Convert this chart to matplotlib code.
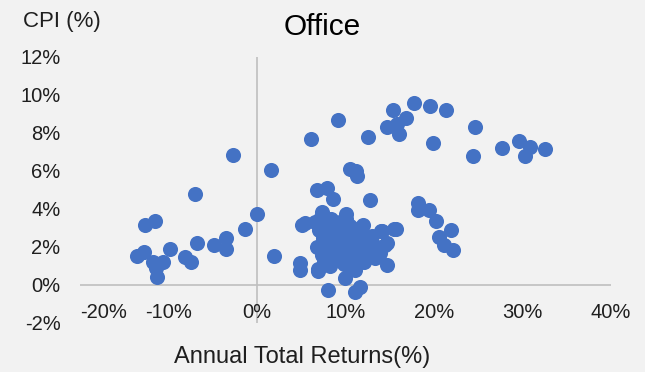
import matplotlib
matplotlib.use("Agg")
import matplotlib.pyplot as plt

# --- Data (in %) ---
annual_returns = [
    # upper band
    6.1, 9.2, 12.5, 15.4, 17.7, 19.5, 21.3, 16.8, 15.8, 14.7, 16.0, 19.9,
    24.6, 24.4, 27.7, 29.6, 30.9, 30.3, 32.5,
    10.5, 11.15, 11.3,
    # left group
    -2.7, 1.6, -7.0, -12.6, -11.5, 0.0, -1.4, -3.5, -3.5, -4.9, -6.8, -8.1,
    -7.5, -9.8, -13.6, -12.8, -11.7, -10.6, -11.4, -11.3, 1.9,
    # around 5%
    6.75, 7.9, 8.6, 12.8,
    # edges of the main cluster
    5.05, 7.3, 10.1, 12.0, 14.1, 15.5, 14.65, 14.65, 14.5, 14.0, 15.7,
    4.86, 4.86, 6.9, 9.9, 8.05, 11.1, 11.6, 11.1, 6.9, 5.4,
    # inside the main cluster
    6.5, 7.0, 7.2, 7.5, 7.8, 8.0, 8.2, 8.4, 8.5, 8.7, 8.9, 9.0, 9.2, 9.4,
    9.5, 9.7, 9.9, 10.0, 10.2, 10.3, 10.5, 10.6, 10.8, 11.0, 11.2, 11.4,
    11.6, 11.8, 12.0, 12.3, 12.5, 12.8, 13.0, 13.3, 13.6, 13.9, 7.6, 8.3,
    9.8, 10.9, 12.1, 6.8, 7.3,
    # right group
    18.2, 18.2, 19.4, 20.2, 21.9, 20.6, 21.1, 22.2,
]
cpi = [
    7.7, 8.66, 7.8, 9.2, 9.6, 9.4, 9.2, 8.8, 8.5, 8.3, 7.96, 7.5,
    8.3, 6.8, 7.2, 7.56, 7.26, 6.8, 7.16,
    6.1, 6.0, 5.74,
    6.86, 6.07, 4.8, 3.15, 3.36, 3.73, 2.94, 2.5, 1.87, 2.08, 2.19, 1.45,
    1.22, 1.89, 1.54, 1.75, 1.22, 1.19, 0.88, 0.4, 1.52,
    4.99, 5.1, 4.55, 4.46,
    3.15, 3.85, 3.76, 3.15, 2.85, 2.97, 2.19, 1.05, 2.1, 2.83, 2.94,
    1.14, 0.79, 0.73, 0.35, -0.26, -0.35, -0.09, 0.79, 0.82, 3.25,
    3.3, 2.9, 3.6, 2.5, 3.2, 2.1, 2.8, 3.5, 1.6, 2.4, 3.0, 1.9, 2.6, 3.3,
    1.4, 2.2, 2.9, 3.5, 1.8, 2.5, 3.1, 1.3, 2.1, 2.7, 1.6, 2.3,
    3.0, 1.9, 2.5, 1.5, 2.2, 1.8, 2.6, 1.4, 2.0, 1.7, 1.2, 1.0,
    1.1, 0.9, 1.2, 2.0, 1.6,
    4.29, 3.94, 3.94, 3.36, 2.92, 2.54, 2.1, 1.84,
]

x_ticks = [-20, -10, 0, 10, 20, 30, 40]
x_tick_labels = ["-20%", "-10%", "0%", "10%", "20%", "30%", "40%"]
y_ticks = [-2, 0, 2, 4, 6, 8, 10, 12]
y_tick_labels = ["-2%", "0%", "2%", "4%", "6%", "8%", "10%", "12%"]

# --- Style ---
bg = "#f2f2f2"
dot_color = "#4472c4"
axis_color = "#bfbfbf"
text_color = "#1f1f1f"
plt.rcParams["font.family"] = ["Liberation Sans", "DejaVu Sans"]

fig = plt.figure(figsize=(6.45, 3.72), dpi=100, facecolor=bg)
ax = fig.add_axes([80 / 645, 1 - 323 / 372, 531 / 645, 266 / 372])
ax.set_facecolor(bg)

ax.scatter(annual_returns, cpi, s=118, color=dot_color, linewidths=0, zorder=3)

ax.set_xlim(-20, 40)
ax.set_ylim(-2, 12)
ax.axhline(0, color=axis_color, lw=1.2, zorder=1)
ax.axvline(0, color=axis_color, lw=1.2, zorder=1)
for s in ax.spines.values():
    s.set_visible(False)

ax.set_xticks([])
ax.set_yticks(y_ticks)
ax.set_yticklabels(y_tick_labels, fontsize=14.5, color=text_color)
ax.tick_params(axis="y", length=0, pad=14)

# x labels sit inside the plot, just above the bottom (Excel style)
for xv, lab in zip(x_ticks, x_tick_labels):
    ha = "left" if xv == -20 else "center"
    ax.text(xv, 0.04, lab, transform=ax.get_xaxis_transform(), ha=ha, va="center",
            fontsize=14.5, color=text_color)

fig.text(322 / 645, 1 - 27 / 372, "Office", ha="center", va="center", fontsize=21.5, color="#000000")
fig.text(23 / 645, 1 - 22 / 372, "CPI (%)", ha="left", va="center", fontsize=16, color=text_color)
fig.text(302 / 645, 1 - 357 / 372, "Annual Total Returns(%)", ha="center", va="center",
         fontsize=17, color=text_color)

fig.savefig("out.png", dpi=100, facecolor=bg)
